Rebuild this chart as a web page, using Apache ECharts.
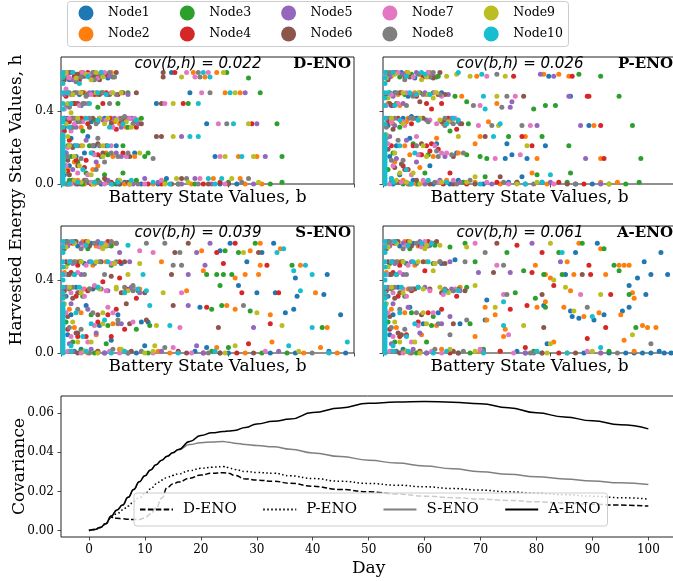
<!DOCTYPE html>
<html>
<head>
<meta charset="utf-8">
<script src="https://cdn.jsdelivr.net/npm/echarts@6/dist/echarts.min.js"></script>
<style>html,body{margin:0;padding:0;background:#fff}#c{width:673px;height:581px}</style>
</head>
<body>
<div id="c"></div>
<script>
const nodeNames = ['Node1','Node2','Node3','Node4','Node5','Node6','Node7','Node8','Node9','Node10'];
const nodeColors = ['#1f77b4','#ff7f0e','#2ca02c','#d62728','#9467bd','#8c564b','#e377c2','#7f7f7f','#bcbd22','#17becf'];
const panelNames = ['D-ENO','P-ENO','S-ENO','A-ENO'];
const panelCov = ['0.022','0.026','0.039','0.061'];
const scatterYTicks = [0, 0.4];
const dayTicks = [0,10,20,30,40,50,60,70,80,90,100];
const covTicks = [0,0.02,0.04,0.06];

// Covariance curves
const days = [0,1,2,3,4,5,6,7,8,9,10,11,12,13,14,15,16,18,20,22,24,25,26,28,30,33,36,40,45,50,55,60,65,70,75,80,85,90,95,100];
const covA = [0,0.0005,0.0015,0.0035,0.0075,0.0105,0.013,0.017,0.021,0.025,0.028,0.031,0.0337,0.036,0.038,0.0398,0.0415,0.0455,0.0486,0.0500,0.0506,0.0509,0.0512,0.0527,0.0545,0.0559,0.0570,0.0603,0.0627,0.0651,0.0657,0.0660,0.0656,0.0648,0.0628,0.0602,0.0581,0.0561,0.0541,0.0520];
const covS = [0,0.0005,0.0015,0.0035,0.0075,0.0105,0.013,0.017,0.021,0.025,0.028,0.031,0.0337,0.036,0.038,0.0398,0.0413,0.0440,0.0449,0.0453,0.0455,0.0452,0.0447,0.0440,0.0435,0.0428,0.0416,0.0397,0.0378,0.0360,0.0345,0.0330,0.0316,0.0301,0.0288,0.0275,0.0264,0.0253,0.0244,0.0236];
const covP = [0,0.0005,0.0015,0.0035,0.0072,0.0085,0.0105,0.0125,0.0148,0.0168,0.0188,0.0212,0.0238,0.0258,0.0272,0.0282,0.0290,0.0306,0.0318,0.0324,0.0327,0.0322,0.0312,0.0302,0.0297,0.0293,0.0280,0.0266,0.0252,0.0241,0.0232,0.0224,0.0215,0.0207,0.0198,0.0190,0.0183,0.0176,0.0168,0.0161];
const covD = [0,0.0005,0.0015,0.0035,0.0068,0.0063,0.0060,0.0058,0.0056,0.0057,0.0065,0.0085,0.0115,0.0165,0.0220,0.0238,0.0248,0.0268,0.0284,0.0293,0.0296,0.0293,0.0282,0.0264,0.0258,0.0252,0.0242,0.0226,0.0210,0.0198,0.0187,0.0176,0.0168,0.0161,0.0154,0.0147,0.0141,0.0135,0.0130,0.0125];

// cyan column of Node10 at b ~ 0 (h values)
const cyanColumnH = [0,0.015,0.03,0.045,0.06,0.075,0.09,0.105,0.12,0.135,0.15,0.165,0.18,0.195,0.21,0.225,0.24,0.255,0.27];

// Scatter points (b,h pairs, flattened) for each panel, one array per node
const ptsD = [
[0.02,0.61,0.09,0.60,0.17,0.585,0.05,0.57,0.13,0.61,0.21,0.59,0.03,0.50,0.11,0.49,0.19,0.50,0.07,0.44,0.12,0.43,0.04,0.36,0.10,0.34,0.02,0.31,0.06,0.25,0.08,0.21,0.03,0.17,0.09,0.15,0.05,0.10,0.02,0.05,0.07,0.02,0.16,0.01,0.24,0.0,0.33,0.0,0.12,0.0,0.66,0.61,0.77,0.50,0.57,0.44,0.87,0.33,0.92,0.15,0.63,0.03,0.30,0.35,0.20,0.21,0.14,0.17,0.48,0.0,0.70,0.0,0.95,0.0,0.26,0.36],
[0.04,0.60,0.12,0.61,0.19,0.57,0.08,0.585,0.23,0.60,0.06,0.49,0.14,0.50,0.22,0.49,0.03,0.43,0.09,0.44,0.06,0.36,0.12,0.31,0.03,0.34,0.05,0.21,0.02,0.15,0.08,0.12,0.04,0.08,0.10,0.02,0.20,0.0,0.29,0.01,0.38,0.0,0.05,0.0,0.79,0.61,0.93,0.61,0.86,0.585,0.98,0.50,1.07,0.50,1.06,0.15,1.17,0.15,0.91,0.03,1.07,0.03,0.32,0.34,0.39,0.31,0.27,0.17,0.44,0.15,0.16,0.44,0.55,0.0,1.10,0.0,0.19,0.08,0.30,0.36],
[0.06,0.61,0.14,0.60,0.02,0.585,0.10,0.57,0.20,0.61,0.25,0.59,0.08,0.50,0.16,0.49,0.24,0.50,0.05,0.43,0.13,0.29,0.02,0.36,0.07,0.31,0.04,0.21,0.06,0.15,0.03,0.10,0.05,0.02,0.13,0.0,0.22,0.02,0.31,0.0,0.99,0.61,1.12,0.58,1.19,0.50,0.76,0.44,1.29,0.33,1.32,0.15,1.32,0.01,0.40,0.50,0.22,0.42,0.34,0.44,0.48,0.36,0.40,0.31,0.37,0.21,0.52,0.17,0.37,0.06,0.15,0.06,0.10,0.12,0.80,0.0,0.45,0.02,1.25,0.0],
[0.03,0.61,0.08,0.59,0.16,0.61,0.11,0.57,0.22,0.585,0.04,0.50,0.12,0.50,0.20,0.49,0.03,0.48,0.08,0.44,0.05,0.34,0.12,0.36,0.02,0.29,0.05,0.24,0.09,0.13,0.15,0.13,0.04,0.07,0.08,0.01,0.18,0.0,0.27,0.02,0.68,0.61,0.73,0.44,1.14,0.33,0.27,0.50,0.25,0.44,0.29,0.36,0.33,0.30,0.19,0.21,0.19,0.17,0.37,0.17,0.60,0.0,0.85,0.0,0.41,0.0],
[0.05,0.61,0.12,0.585,0.18,0.59,0.07,0.57,0.24,0.61,0.02,0.49,0.05,0.50,0.17,0.50,0.14,0.44,0.04,0.43,0.09,0.31,0.02,0.36,0.22,0.34,0.03,0.17,0.07,0.08,0.06,0.21,0.28,0.02,0.09,0.0,0.43,0.0,0.80,0.03,1.10,0.50,0.72,0.26,1.17,0.33,1.22,0.15,0.32,0.36,0.36,0.31,0.33,0.17,0.90,0.0,0.50,0.03],
[0.02,0.57,0.06,0.61,0.14,0.59,0.10,0.60,0.19,0.585,0.23,0.57,0.07,0.49,0.13,0.50,0.23,0.49,0.10,0.44,0.03,0.34,0.17,0.31,0.07,0.36,0.07,0.20,0.05,0.05,0.04,0.13,0.14,0.02,0.26,0.03,0.35,0.0,0.61,0.61,0.61,0.585,0.60,0.44,0.57,0.26,0.60,0.26,0.72,0.03,0.23,0.36,0.45,0.50,0.28,0.49,1.00,0.0,0.30,0.33,0.25,0.17],
[0.05,0.58,0.13,0.61,0.22,0.58,0.03,0.60,0.09,0.57,0.17,0.60,0.03,0.52,0.10,0.50,0.18,0.49,0.02,0.41,0.08,0.33,0.04,0.20,0.10,0.06,0.06,0.29,0.18,0.01,0.03,0.10,0.11,0.43,0.05,0.36,0.75,0.61,0.88,0.61,0.80,0.585,0.84,0.50,0.62,0.44,0.94,0.33,0.95,0.15,0.83,0.03,0.35,0.36,0.41,0.36,0.39,0.15,0.50,0.0,0.31,0.31],
[0.09,0.56,0.15,0.48,0.05,0.42,0.11,0.34,0.04,0.15,0.15,0.02,0.07,0.61,0.19,0.61,0.12,0.585,0.24,0.59,0.20,0.57,0.09,0.50,0.25,0.50,0.13,0.44,0.08,0.36,0.06,0.31,0.10,0.21,0.23,0.01,0.34,0.02,0.82,0.61,0.83,0.585,0.89,0.50,0.99,0.33,0.75,0.03,1.12,0.03,0.32,0.585,0.21,0.50,0.29,0.44,0.38,0.37,0.21,0.33,0.23,0.21,0.30,0.17,0.40,0.17,0.55,0.14,0.21,0.08,0.22,0.25,0.70,0.0,0.26,0.12],
[0.03,0.61,0.09,0.58,0.06,0.39,0.04,0.26,0.08,0.15,0.02,0.07,0.11,0.10,0.15,0.60,0.21,0.61,0.18,0.57,0.01,0.585,0.07,0.49,0.12,0.50,0.21,0.50,0.04,0.44,0.10,0.36,0.03,0.33,0.05,0.21,0.08,0.02,0.19,0.0,0.35,0.02,0.97,0.61,0.72,0.585,1.04,0.50,0.67,0.44,1.12,0.33,0.67,0.26,0.98,0.15,1.15,0.15,0.69,0.03,1.02,0.03,0.36,0.50,0.26,0.33,0.42,0.31,0.13,0.21,0.47,0.17,0.62,0.0,0.28,0.36],
[0.012,0.61,0.012,0.585,0.012,0.55,0.012,0.50,0.012,0.44,0.012,0.41,0.012,0.36,0.012,0.34,0.012,0.31,0.07,0.61,0.11,0.55,0.16,0.59,0.04,0.50,0.22,0.50,0.06,0.44,0.15,0.36,0.05,0.31,0.10,0.01,0.30,0.0,0.20,0.01,0.42,0.02,0.85,0.61,0.89,0.585,1.01,0.50,0.82,0.44,1.03,0.33,0.77,0.26,0.82,0.26,1.08,0.15,0.88,0.03,0.96,0.03,0.17,0.44,0.29,0.31,0.28,0.21,0.65,0.0]
];
const ptsP = [
[0.03,0.60,0.11,0.61,0.19,0.58,0.07,0.50,0.15,0.48,0.05,0.43,0.12,0.36,0.03,0.32,0.08,0.21,0.04,0.15,0.10,0.05,0.18,0.02,0.30,0.0,0.06,0.0,0.21,0.36,0.99,0.59,1.12,0.48,0.17,0.37,1.23,0.32,0.74,0.22,0.97,0.21,0.73,0.14,0.77,0.16,0.86,0.14,0.28,0.10,0.83,0.04,0.60,0.0,0.95,0.01,1.15,0.0,0.45,0.02],
[0.05,0.59,0.14,0.61,0.22,0.60,0.09,0.49,0.19,0.50,0.03,0.44,0.10,0.43,0.06,0.33,0.14,0.34,0.02,0.25,0.07,0.12,0.12,0.02,0.25,0.01,0.16,0.16,0.56,0.59,0.96,0.60,1.05,0.60,1.11,0.59,0.47,0.48,0.68,0.44,1.26,0.32,0.63,0.34,0.32,0.25,0.55,0.22,0.58,0.26,0.85,0.26,0.45,0.17,0.92,0.14,1.30,0.14,0.89,0.06,1.30,0.01,0.70,0.0,0.38,0.02],
[0.02,0.61,0.10,0.585,0.17,0.60,0.04,0.50,0.13,0.49,0.08,0.44,0.04,0.36,0.10,0.31,0.06,0.17,0.03,0.08,0.09,0.01,0.21,0.0,0.27,0.61,0.33,0.59,1.17,0.60,1.30,0.59,0.43,0.48,1.41,0.48,0.50,0.45,0.90,0.41,0.97,0.43,1.03,0.43,0.51,0.33,1.49,0.32,0.75,0.26,0.95,0.26,1.11,0.21,0.58,0.15,0.62,0.14,1.54,0.14,0.61,0.04,0.92,0.05,1.12,0.06,1.53,0.01,1.35,0.0,0.80,0.01,0.40,0.29],
[0.06,0.61,0.13,0.59,0.24,0.585,0.02,0.49,0.11,0.50,0.20,0.48,0.06,0.43,0.03,0.34,0.09,0.36,0.05,0.21,0.12,0.10,0.16,0.0,0.26,0.44,0.78,0.59,1.13,0.59,1.22,0.48,1.23,0.48,0.29,0.41,0.35,0.44,0.39,0.36,1.30,0.32,0.18,0.21,0.29,0.22,0.83,0.26,0.89,0.21,0.28,0.18,1.32,0.14,0.40,0.06,0.50,0.0,1.05,0.01,0.33,0.19],
[0.04,0.585,0.12,0.60,0.20,0.61,0.06,0.48,0.17,0.49,0.12,0.44,0.02,0.36,0.07,0.32,0.04,0.26,0.08,0.14,0.05,0.03,0.14,0.01,0.34,0.02,0.94,0.60,1.02,0.59,1.11,0.48,0.76,0.42,0.77,0.45,0.92,0.32,1.18,0.32,1.21,0.14,0.65,0.0,1.0,0.01,0.25,0.50],
[0.08,0.61,0.16,0.585,0.03,0.57,0.10,0.50,0.22,0.50,0.04,0.44,0.11,0.34,0.06,0.30,0.03,0.19,0.07,0.09,0.20,0.02,0.28,0.0,0.84,0.48,0.22,0.45,0.24,0.36,0.61,0.26,0.13,0.08,0.70,0.04,0.55,0.0,0.30,0.58],
[0.01,0.60,0.09,0.61,0.18,0.585,0.26,0.59,0.05,0.49,0.14,0.50,0.02,0.43,0.09,0.44,0.05,0.34,0.13,0.32,0.03,0.22,0.06,0.10,0.11,0.01,0.24,0.02,0.62,0.59,0.35,0.48,0.79,0.48,0.58,0.43,0.32,0.33,0.57,0.32,0.88,0.32,0.35,0.17,0.38,0.17,0.67,0.14,0.82,0.16,0.75,0.0,0.20,0.26,0.42,0.02],
[0.04,0.61,0.13,0.57,0.21,0.60,0.28,0.585,0.08,0.50,0.18,0.48,0.24,0.49,0.14,0.43,0.07,0.36,0.16,0.36,0.02,0.31,0.09,0.24,0.05,0.13,0.15,0.0,0.31,0.01,0.68,0.60,0.74,0.48,0.54,0.43,0.71,0.42,0.37,0.32,0.65,0.32,0.83,0.32,0.32,0.18,0.41,0.16,0.48,0.17,0.90,0.0,0.52,0.02,0.27,0.34],
[0.02,0.58,0.07,0.60,0.15,0.61,0.23,0.57,0.12,0.50,0.21,0.50,0.27,0.49,0.03,0.47,0.05,0.36,0.12,0.33,0.02,0.27,0.07,0.17,0.10,0.06,0.08,0.02,0.22,0.0,0.38,0.59,0.44,0.60,0.52,0.59,0.73,0.59,0.68,0.48,0.69,0.32,0.45,0.26,0.86,0.21,0.55,0.04,0.30,0.47,0.80,0.0,0.35,0.01],
[0.012,0.61,0.012,0.58,0.012,0.55,0.012,0.50,0.012,0.47,0.012,0.43,0.012,0.36,0.012,0.33,0.06,0.61,0.14,0.59,0.25,0.60,0.03,0.50,0.16,0.50,0.07,0.43,0.10,0.35,0.05,0.03,0.17,0.0,0.27,0.02,0.45,0.61,0.59,0.60,0.60,0.48,0.61,0.41,0.42,0.36,0.70,0.33,0.66,0.26,1.0,0.05,0.85,0.0,0.20,0.49]
];
const ptsS = [
[0.03,0.61,0.10,0.585,0.18,0.60,0.06,0.50,0.14,0.49,0.04,0.43,0.09,0.36,0.03,0.31,0.06,0.21,0.04,0.10,0.12,0.02,0.26,0.0,0.95,0.56,1.01,0.60,1.20,0.55,1.27,0.60,1.11,0.50,1.40,0.41,1.59,0.43,1.06,0.37,1.17,0.33,1.28,0.33,1.41,0.31,1.57,0.32,0.83,0.25,1.34,0.22,1.39,0.24,1.67,0.21,0.50,0.04,0.87,0.03,1.60,0.01,1.40,0.0,1.70,0.0,1.0,0.0,0.52,0.17,0.30,0.07],
[0.05,0.60,0.13,0.61,0.21,0.585,0.09,0.50,0.19,0.48,0.02,0.44,0.11,0.33,0.05,0.24,0.08,0.14,0.16,0.0,0.35,0.02,0.84,0.56,1.13,0.56,1.19,0.60,1.31,0.57,0.60,0.50,1.19,0.48,1.43,0.48,0.85,0.45,1.04,0.41,1.10,0.43,1.18,0.43,0.75,0.34,1.52,0.33,0.99,0.26,1.04,0.24,1.25,0.21,1.59,0.14,0.93,0.03,1.26,0.06,1.55,0.03,1.45,0.0,0.65,0.0],
[0.02,0.59,0.08,0.61,0.16,0.57,0.04,0.49,0.12,0.50,0.08,0.43,0.05,0.35,0.13,0.31,0.03,0.17,0.07,0.06,0.20,0.0,0.98,0.56,1.06,0.55,1.16,0.60,1.38,0.48,0.87,0.43,0.93,0.43,0.97,0.43,1.02,0.43,0.95,0.37,0.90,0.24,0.96,0.26,1.13,0.23,1.56,0.14,1.0,0.03,0.30,0.48,0.45,0.13,1.20,0.0],
[0.07,0.60,0.15,0.61,0.24,0.59,0.03,0.50,0.10,0.48,0.06,0.44,0.02,0.34,0.09,0.31,0.04,0.13,0.10,0.09,0.14,0.01,0.93,0.55,1.04,0.60,0.97,0.49,1.23,0.48,0.35,0.41,1.08,0.33,1.30,0.33,0.33,0.24,0.87,0.25,1.25,0.16,1.12,0.05,0.38,0.13,0.30,0.09,0.25,0.39,0.85,0.0],
[0.04,0.585,0.12,0.60,0.22,0.61,0.07,0.49,0.17,0.50,0.12,0.43,0.03,0.36,0.06,0.27,0.05,0.05,0.18,0.02,0.81,0.55,0.89,0.60,0.86,0.48,0.76,0.43,0.76,0.26,1.15,0.14,0.81,0.04,0.95,0.0,0.28,0.34,0.35,0.55],
[0.09,0.61,0.17,0.585,0.02,0.57,0.11,0.50,0.24,0.50,0.05,0.43,0.10,0.33,0.07,0.30,0.04,0.20,0.09,0.11,0.22,0.01,0.23,0.59,0.68,0.55,0.76,0.60,1.18,0.55,0.66,0.43,0.39,0.27,0.67,0.26,0.51,0.18,0.94,0.14,0.30,0.42,0.75,0.0],
[0.01,0.60,0.06,0.61,0.14,0.585,0.23,0.58,0.05,0.50,0.15,0.48,0.02,0.43,0.10,0.44,0.06,0.33,0.14,0.31,0.03,0.22,0.06,0.09,0.12,0.0,0.29,0.01,0.47,0.56,0.55,0.55,0.32,0.49,0.72,0.33,0.43,0.17,0.71,0.14,0.67,0.03,0.28,0.25,0.20,0.37,0.55,0.0],
[0.04,0.61,0.12,0.57,0.20,0.60,0.27,0.585,0.08,0.50,0.20,0.49,0.14,0.43,0.07,0.36,0.17,0.35,0.02,0.31,0.10,0.24,0.05,0.14,0.17,0.0,0.31,0.02,0.33,0.60,0.51,0.60,0.62,0.60,0.71,0.55,0.23,0.50,0.67,0.48,0.72,0.48,0.43,0.37,1.09,0.26,0.34,0.18,0.62,0.03,0.40,0.0,0.26,0.43],
[0.03,0.58,0.08,0.60,0.16,0.61,0.25,0.57,0.12,0.50,0.21,0.50,0.03,0.47,0.05,0.36,0.12,0.33,0.02,0.27,0.07,0.17,0.10,0.06,0.22,0.0,0.27,0.59,1.09,0.55,0.47,0.49,0.40,0.43,0.33,0.35,0.61,0.33,1.17,0.22,0.57,0.15,1.32,0.15,0.56,0.04,1.04,0.04,0.36,0.02,0.50,0.0],
[0.012,0.61,0.012,0.58,0.012,0.55,0.012,0.50,0.012,0.47,0.012,0.43,0.012,0.40,0.012,0.36,0.012,0.33,0.012,0.30,0.07,0.61,0.15,0.59,0.05,0.50,0.18,0.50,0.08,0.43,0.11,0.36,0.06,0.04,0.15,0.01,0.30,0.0,0.40,0.59,1.29,0.55,1.33,0.57,1.46,0.48,0.49,0.43,1.39,0.45,1.50,0.43,0.51,0.34,1.43,0.34,0.53,0.26,0.26,0.18,0.65,0.15,1.50,0.14,1.71,0.06,1.36,0.04,0.70,0.0]
];
const ptsA = [
[0.03,0.61,0.10,0.585,0.18,0.60,0.06,0.50,0.14,0.49,0.04,0.43,0.09,0.36,0.03,0.31,0.06,0.21,0.04,0.10,0.12,0.02,0.26,0.0,1.15,0.55,1.28,0.60,1.66,0.55,0.43,0.51,1.56,0.50,1.09,0.43,1.52,0.41,1.60,0.43,1.70,0.43,1.47,0.37,1.57,0.32,0.62,0.29,0.96,0.26,1.12,0.23,1.32,0.21,1.43,0.23,1.47,0.25,0.61,0.18,1.13,0.20,1.17,0.19,1.26,0.18,0.98,0.05,1.50,0.0,1.60,0.0,1.72,0.0,1.65,0.01,1.20,0.0,0.85,0.0,1.55,0.0,1.68,0.0],
[0.05,0.60,0.13,0.61,0.21,0.585,0.09,0.50,0.19,0.48,0.02,0.44,0.11,0.33,0.05,0.24,0.08,0.14,0.16,0.0,0.35,0.02,1.17,0.60,1.30,0.57,0.91,0.48,1.10,0.50,1.41,0.48,1.44,0.48,1.47,0.48,0.97,0.43,1.00,0.41,1.14,0.43,1.33,0.43,1.12,0.34,1.49,0.33,1.50,0.30,0.97,0.28,0.61,0.25,0.92,0.25,1.08,0.25,1.29,0.22,1.42,0.21,0.62,0.18,0.67,0.21,0.73,0.13,1.20,0.20,1.55,0.15,1.58,0.14,1.63,0.14,0.55,0.09,0.72,0.09,1.02,0.06,1.44,0.07,1.30,0.0,0.70,0.01],
[0.02,0.59,0.08,0.61,0.16,0.57,0.04,0.49,0.12,0.50,0.08,0.43,0.05,0.35,0.13,0.31,0.03,0.17,0.07,0.06,0.20,0.0,0.40,0.58,0.49,0.60,0.74,0.55,1.05,0.55,1.19,0.60,1.32,0.57,0.55,0.50,1.38,0.48,0.84,0.45,0.96,0.43,1.07,0.43,1.41,0.45,0.50,0.36,0.79,0.33,1.47,0.32,0.91,0.30,0.97,0.25,1.51,0.14,0.60,0.02,0.30,0.20],
[0.07,0.60,0.15,0.61,0.24,0.59,0.03,0.50,0.10,0.48,0.06,0.44,0.02,0.34,0.09,0.31,0.04,0.13,0.10,0.09,0.14,0.01,0.80,0.59,0.95,0.55,1.23,0.48,0.89,0.44,1.24,0.43,1.02,0.37,1.36,0.32,0.76,0.24,0.86,0.26,1.33,0.14,1.22,0.08,0.85,0.03,0.25,0.45,0.35,0.24,0.22,0.59],
[0.04,0.585,0.12,0.60,0.22,0.61,0.07,0.49,0.17,0.50,0.12,0.43,0.03,0.36,0.06,0.27,0.05,0.05,0.18,0.02,0.89,0.60,1.06,0.50,0.57,0.44,0.76,0.44,0.40,0.20,0.95,0.0],
[0.09,0.61,0.17,0.585,0.02,0.57,0.11,0.50,0.24,0.50,0.05,0.43,0.10,0.33,0.07,0.30,0.04,0.20,0.09,0.11,0.22,0.01,0.68,0.60,0.66,0.44,1.19,0.43,0.95,0.32,0.96,0.14,0.28,0.35,0.45,0.0],
[0.01,0.60,0.06,0.61,0.14,0.585,0.23,0.58,0.05,0.50,0.15,0.48,0.02,0.43,0.10,0.44,0.06,0.33,0.14,0.31,0.03,0.22,0.06,0.09,0.12,0.0,0.29,0.01,0.55,0.60,0.68,0.48,0.72,0.32,1.18,0.32,0.75,0.10,0.36,0.32,0.58,0.02],
[0.04,0.61,0.12,0.57,0.20,0.60,0.27,0.585,0.08,0.50,0.20,0.49,0.14,0.43,0.07,0.36,0.17,0.35,0.02,0.31,0.10,0.24,0.05,0.14,0.17,0.0,0.31,0.02,0.61,0.55,0.49,0.50,0.72,0.48,0.74,0.32,1.22,0.25,0.50,0.18,1.60,0.05,0.40,0.10,0.90,0.0],
[0.03,0.58,0.08,0.60,0.16,0.61,0.25,0.57,0.12,0.50,0.21,0.50,0.03,0.47,0.05,0.36,0.12,0.33,0.02,0.27,0.07,0.17,0.10,0.06,0.22,0.0,0.34,0.59,0.50,0.58,1.00,0.60,0.55,0.37,1.02,0.40,1.09,0.36,1.30,0.32,0.67,0.25,1.14,0.23,0.84,0.15,1.00,0.05,1.49,0.10,0.30,0.45,0.40,0.02],
[0.012,0.61,0.012,0.58,0.012,0.55,0.012,0.50,0.012,0.47,0.012,0.43,0.012,0.40,0.012,0.36,0.012,0.33,0.012,0.30,0.07,0.61,0.15,0.59,0.05,0.50,0.18,0.50,0.08,0.43,0.11,0.36,0.06,0.04,0.15,0.01,0.30,0.0,0.29,0.60,1.07,0.55,0.72,0.28,0.72,0.15,1.25,0.20,1.30,0.03,0.60,0.0]
];
// extra points along the bottom row (h ~ 0) per panel, one array per node
const bottomD = [
[0.05,0.01,0.38,0.01,0.58,0.0,1.05,0.0],[0.14,0.0,0.45,0.01,0.78,0.0,1.2,0.0],[0.08,0.01,0.35,0.0,0.62,0.01,1.0,0.01],[0.04,0.0,0.30,0.01,0.52,0.0,0.95,0.01],[0.20,0.01,0.58,0.01,0.72,0.0,1.15,0.0],
[0.10,0.0,0.40,0.01,0.66,0.0,0.88,0.0],[0.06,0.0,0.26,0.0,0.60,0.02,0.98,0.0],[0.03,0.0,0.46,0.0,0.82,0.0,1.08,0.01],[0.12,0.01,0.41,0.0,0.76,0.01,1.18,0.01],[0.05,0.0,0.34,0.01,0.55,0.01,0.92,0.0]
];
const bottomP = [
[0.08,0.01,0.40,0.0,0.75,0.01,1.25,0.0],[0.2,0.0,0.55,0.01,0.98,0.0,1.40,0.01],[0.12,0.0,0.48,0.01,1.10,0.01,1.45,0.0],[0.05,0.01,0.36,0.0,0.68,0.01,1.20,0.0],[0.25,0.0,0.46,0.01,0.85,0.0,1.30,0.0],
[0.10,0.01,0.42,0.0,0.80,0.01,1.10,0.0],[0.04,0.0,0.33,0.01,0.62,0.01,1.02,0.0],[0.07,0.01,0.44,0.0,0.72,0.01,1.15,0.0],[0.14,0.01,0.50,0.01,0.92,0.01,1.35,0.0],[0.06,0.01,0.38,0.01,0.58,0.0,0.95,0.01]
];
const bottomS = [
[0.08,0.01,0.45,0.0,0.80,0.01,1.25,0.0],[0.22,0.01,0.58,0.01,1.10,0.0,1.65,0.0],[0.12,0.01,0.52,0.0,0.90,0.01,1.35,0.0],[0.05,0.01,0.40,0.0,0.70,0.01,1.05,0.0],[0.26,0.0,0.60,0.01,0.85,0.0,1.30,0.01],
[0.10,0.0,0.42,0.01,0.95,0.0,1.15,0.0],[0.04,0.01,0.35,0.0,0.78,0.0,1.22,0.01],[0.07,0.01,0.48,0.01,0.88,0.0,1.50,0.0],[0.14,0.01,0.55,0.01,0.98,0.0,1.42,0.01],[0.06,0.01,0.38,0.01,0.92,0.01,1.60,0.0]
];
const bottomA = [
[0.08,0.01,0.45,0.0,0.80,0.01,1.35,0.0,1.45,0.0,1.74,0.0],[0.22,0.01,0.58,0.01,1.10,0.0,1.50,0.01],[0.12,0.01,0.52,0.0,0.90,0.01,1.35,0.01],[0.05,0.01,0.40,0.0,0.70,0.01,1.05,0.0],[0.26,0.0,0.60,0.01,0.85,0.0,1.30,0.0],
[0.10,0.0,0.42,0.01,0.95,0.0,1.15,0.0],[0.04,0.01,0.35,0.0,0.78,0.0,1.22,0.01],[0.07,0.01,0.48,0.01,0.88,0.0,1.40,0.0],[0.14,0.01,0.55,0.01,0.98,0.0,1.25,0.01],[0.06,0.01,0.38,0.01,0.92,0.01,1.10,0.0]
];
// extra points filling the dense horizontal bands at small b, one array per node
const bandD = [
[0.28,0.58,0.36,0.50,0.18,0.34,0.42,0.36,0.24,0.15,0.33,0.21,0.16,0.26,0.44,0.17],
[0.30,0.61,0.25,0.50,0.14,0.36,0.35,0.33,0.31,0.15,0.12,0.21,0.46,0.35,0.22,0.10],
[0.31,0.585,0.29,0.49,0.20,0.35,0.44,0.34,0.28,0.16,0.17,0.21,0.50,0.15,0.26,0.05],
[0.27,0.60,0.34,0.49,0.16,0.33,0.38,0.35,0.22,0.16,0.27,0.21,0.14,0.09,0.45,0.31],
[0.29,0.59,0.40,0.49,0.25,0.35,0.46,0.33,0.36,0.15,0.15,0.24,0.21,0.12,0.40,0.36],
[0.33,0.61,0.37,0.50,0.19,0.36,0.36,0.34,0.41,0.15,0.22,0.22,0.10,0.10,0.48,0.33],
[0.26,0.61,0.30,0.50,0.13,0.34,0.27,0.35,0.20,0.16,0.30,0.21,0.16,0.05,0.44,0.36],
[0.29,0.61,0.33,0.49,0.17,0.36,0.43,0.33,0.34,0.15,0.19,0.21,0.12,0.14,0.36,0.36],
[0.25,0.585,0.31,0.50,0.23,0.36,0.33,0.35,0.25,0.15,0.25,0.21,0.18,0.05,0.39,0.34],
[0.24,0.61,0.27,0.49,0.22,0.35,0.37,0.33,0.18,0.17,0.09,0.21,0.13,0.08,0.45,0.35]
];
const bandP = [
[0.30,0.59,0.35,0.50,0.20,0.36,0.40,0.34,0.22,0.16,0.32,0.22,0.16,0.25,0.44,0.17],
[0.28,0.61,0.26,0.49,0.15,0.36,0.36,0.33,0.30,0.15,0.13,0.21,0.40,0.35,0.22,0.09],
[0.32,0.585,0.30,0.50,0.21,0.35,0.45,0.34,0.27,0.16,0.18,0.22,0.50,0.16,0.25,0.06],
[0.26,0.60,0.33,0.49,0.17,0.33,0.37,0.35,0.23,0.16,0.26,0.21,0.15,0.08,0.44,0.30],
[0.30,0.59,0.39,0.49,0.26,0.35,0.46,0.33,0.37,0.15,0.14,0.24,0.20,0.12,0.41,0.36],
[0.34,0.61,0.37,0.49,0.18,0.36,0.35,0.34,0.42,0.15,0.23,0.22,0.11,0.11,0.47,0.33],
[0.27,0.61,0.31,0.50,0.12,0.34,0.28,0.35,0.21,0.16,0.31,0.21,0.17,0.05,0.43,0.36],
[0.30,0.61,0.34,0.49,0.18,0.36,0.42,0.33,0.33,0.15,0.20,0.21,0.12,0.13,0.37,0.36],
[0.26,0.585,0.32,0.50,0.22,0.36,0.34,0.35,0.26,0.15,0.24,0.21,0.18,0.06,0.39,0.34],
[0.23,0.61,0.28,0.49,0.21,0.35,0.38,0.33,0.19,0.17,0.10,0.21,0.14,0.08,0.45,0.35]
];
const bandS = [
[0.29,0.59,0.36,0.49,0.19,0.35,0.41,0.35,0.23,0.15,0.34,0.21,0.15,0.26,0.48,0.17],
[0.31,0.60,0.27,0.50,0.14,0.35,0.37,0.33,0.31,0.16,0.12,0.22,0.47,0.35,0.21,0.10],
[0.30,0.585,0.31,0.49,0.22,0.36,0.46,0.34,0.28,0.15,0.18,0.21,0.53,0.15,0.27,0.05],
[0.28,0.61,0.35,0.50,0.16,0.34,0.39,0.35,0.22,0.17,0.28,0.21,0.15,0.09,0.45,0.30],
[0.28,0.59,0.41,0.50,0.24,0.35,0.47,0.33,0.36,0.16,0.16,0.24,0.21,0.11,0.42,0.36],
[0.33,0.60,0.38,0.50,0.20,0.36,0.36,0.33,0.41,0.16,0.22,0.21,0.10,0.11,0.50,0.33],
[0.26,0.60,0.30,0.49,0.13,0.35,0.27,0.34,0.20,0.15,0.31,0.22,0.16,0.06,0.44,0.35],
[0.30,0.61,0.33,0.50,0.17,0.35,0.43,0.34,0.34,0.16,0.19,0.22,0.12,0.13,0.38,0.36],
[0.25,0.59,0.32,0.49,0.23,0.35,0.33,0.36,0.25,0.16,0.25,0.22,0.18,0.06,0.40,0.34],
[0.24,0.60,0.28,0.50,0.22,0.36,0.38,0.33,0.18,0.16,0.09,0.22,0.13,0.09,0.46,0.35]
];
const bandA = [
[0.28,0.59,0.35,0.49,0.18,0.35,0.42,0.34,0.24,0.16,0.33,0.22,0.16,0.25,0.46,0.16],
[0.30,0.60,0.26,0.50,0.15,0.35,0.36,0.34,0.32,0.15,0.13,0.22,0.46,0.36,0.23,0.10],
[0.31,0.59,0.30,0.49,0.21,0.36,0.45,0.35,0.29,0.15,0.17,0.22,0.52,0.16,0.26,0.06],
[0.27,0.61,0.34,0.50,0.17,0.34,0.38,0.34,0.21,0.17,0.27,0.22,0.14,0.10,0.44,0.31],
[0.29,0.60,0.40,0.50,0.25,0.36,0.46,0.34,0.35,0.16,0.15,0.25,0.22,0.11,0.41,0.35],
[0.32,0.61,0.37,0.49,0.19,0.35,0.35,0.33,0.42,0.16,0.23,0.21,0.11,0.10,0.49,0.34],
[0.25,0.61,0.31,0.49,0.12,0.35,0.28,0.34,0.21,0.15,0.30,0.22,0.17,0.06,0.43,0.35],
[0.29,0.60,0.34,0.50,0.16,0.35,0.42,0.34,0.33,0.16,0.20,0.22,0.13,0.13,0.37,0.35],
[0.26,0.59,0.31,0.49,0.24,0.35,0.34,0.36,0.26,0.16,0.24,0.22,0.19,0.06,0.39,0.33],
[0.23,0.60,0.27,0.50,0.21,0.36,0.37,0.34,0.19,0.16,0.10,0.22,0.14,0.09,0.45,0.34]
];
const panelPts = [ptsD, ptsP, ptsS, ptsA];
const panelBottom = [bottomD, bottomP, bottomS, bottomA];
const panelBand = [bandD, bandP, bandS, bandA];

function pairs(flat) {
  const out = [];
  for (let i = 0; i + 1 < flat.length; i += 2) out.push([flat[i], flat[i + 1]]);
  return out;
}

const SERIF = 'DejaVu Serif';
const AX = '#222';
const panelBoxes = [
  {left: 61, top: 57}, {left: 383, top: 57},
  {left: 61, top: 226}, {left: 383, top: 226}
];
const PW = 293, PH = 127;

const grids = panelBoxes.map(p => ({left: p.left, top: p.top, width: PW, height: PH, show: true, borderColor: AX, borderWidth: 1, backgroundColor: 'transparent', containLabel: false, outerBoundsMode: 'none'}));
grids.push({left: 61, top: 396, width: 615.3, height: 141, show: true, borderColor: AX, borderWidth: 1, containLabel: false, outerBoundsMode: 'none'});

const xAxes = panelBoxes.map((p, i) => ({
  gridIndex: i, type: 'value', min: 0, max: 1.75, interval: 1,
  axisLine: {show: false, onZero: false}, splitLine: {show: false},
  axisTick: {show: true, length: 3.5, lineStyle: {color: AX, width: 0.8}},
  axisLabel: {show: false},
  name: 'Battery State Values, b', nameLocation: 'middle', nameGap: 5, nameMoveOverlap: false,
  nameTextStyle: {fontFamily: SERIF, fontSize: 17, color: '#000', verticalAlign: 'top'}
}));
xAxes.push({
  gridIndex: 4, type: 'value', min: -5, max: 105,
  axisLine: {show: false, onZero: false}, splitLine: {show: false},
  axisTick: {show: true, length: 3.5, customValues: dayTicks, lineStyle: {color: AX, width: 0.8}},
  axisLabel: {show: true, customValues: dayTicks, margin: 7, fontFamily: SERIF, fontSize: 12, color: '#000'},
  name: 'Day', nameLocation: 'middle', nameGap: 23, nameMoveOverlap: false,
  nameTextStyle: {fontFamily: SERIF, fontSize: 17, color: '#000', verticalAlign: 'top'}
});

const yAxes = panelBoxes.map((p, i) => ({
  gridIndex: i, type: 'value', min: 0, max: 0.695,
  axisLine: {show: false, onZero: false}, splitLine: {show: false},
  axisTick: {show: true, length: 3.5, customValues: scatterYTicks, lineStyle: {color: AX, width: 0.8}},
  axisLabel: {show: i % 2 === 0, customValues: scatterYTicks, margin: 7, fontFamily: SERIF, fontSize: 12, color: '#000', formatter: v => v.toFixed(1)}
}));
yAxes.push({
  gridIndex: 4, type: 'value', min: -0.0033, max: 0.0688,
  axisLine: {show: false, onZero: false}, splitLine: {show: false},
  axisTick: {show: true, length: 3.5, customValues: covTicks, lineStyle: {color: AX, width: 0.8}},
  axisLabel: {show: true, customValues: covTicks, margin: 7, fontFamily: SERIF, fontSize: 12, color: '#000', formatter: v => v.toFixed(2)},
  name: 'Covariance', nameLocation: 'middle', nameGap: 33, nameMoveOverlap: false,
  nameTextStyle: {fontFamily: SERIF, fontSize: 17, color: '#000'}
});

const series = [];
panelPts.forEach((pts, p) => {
  pts.forEach((flat, n) => {
    let data = pairs(flat).concat(pairs(panelBand[p][n]), pairs(panelBottom[p][n]));
    if (n === 9) data = cyanColumnH.map(h => [0.012, h]).concat(data);
    series.push({
      type: 'scatter', name: nodeNames[n], xAxisIndex: p, yAxisIndex: p,
      data: data, symbol: 'circle', symbolSize: 5,
      itemStyle: {color: nodeColors[n], opacity: 1}, silent: true
    });
  });
});

const lineDefs = [
  {name: 'D-ENO', vals: covD, color: '#000', type: [5.5, 2.4]},
  {name: 'P-ENO', vals: covP, color: '#000', type: [1.5, 2.5]},
  {name: 'S-ENO', vals: covS, color: '#808080', type: 'solid'},
  {name: 'A-ENO', vals: covA, color: '#000', type: 'solid'}
];
lineDefs.forEach(d => {
  series.push({
    type: 'line', name: d.name, xAxisIndex: 4, yAxisIndex: 4,
    data: days.map((x, i) => [x, d.vals[i]]),
    smooth: true, smoothMonotone: 'x', symbol: 'none', silent: true,
    lineStyle: {color: d.color, width: 1.5, type: d.type},
    itemStyle: {color: d.color}
  });
});

const legends = nodeNames.map((nm, i) => {
  const col = Math.floor(i / 2), row = i % 2;
  return {
    data: [nm], left: 78.5 + col * 101.3, top: row === 0 ? 5.5 : 26.5,
    orient: 'horizontal', padding: 0, itemGap: 0,
    itemWidth: 15, itemHeight: 15, icon: 'circle', selectedMode: false,
    textStyle: {fontFamily: SERIF, fontSize: 12.5, color: '#000', padding: [0, 0, 0, 9.5]}
  };
});
legends.push({
  data: lineDefs.map(d => d.name), left: 134, top: 493, orient: 'horizontal',
  padding: [9, 7, 9, 5], itemGap: 25.5, itemWidth: 33, itemHeight: 14,
  backgroundColor: 'rgba(255,255,255,0.8)', borderColor: '#cccccc', borderWidth: 1, borderRadius: 3,
  selectedMode: false,
  itemStyle: {opacity: 0},
  textStyle: {fontFamily: SERIF, fontSize: 15, color: '#000', padding: [0, 0, 0, 5]}
});

const graphics = [
  {type: 'rect', z: -1, shape: {x: 67.5, y: 1.5, width: 501, height: 45, r: 3}, style: {fill: '#fff', stroke: '#cccccc', lineWidth: 1}},
  {type: 'text', x: 17, y: 200, rotation: Math.PI / 2,
   style: {text: 'Harvested Energy State Values, h', fontFamily: SERIF, fontSize: 17, fill: '#000', align: 'center', verticalAlign: 'middle'}}
];
panelBoxes.forEach((p, i) => {
  graphics.push({type: 'text', x: p.left + 137, y: p.top + 7.5, z: 10,
    style: {text: 'cov(b,h) = ' + panelCov[i], fontFamily: 'DejaVu Sans', fontStyle: 'italic', fontSize: 15, fill: '#000', align: 'center', verticalAlign: 'middle'}});
  graphics.push({type: 'text', x: p.left + 290, y: p.top + 7.5, z: 10,
    style: {text: panelNames[i], fontFamily: SERIF, fontWeight: 'bold', fontSize: 15, fill: '#000', align: 'right', verticalAlign: 'middle'}});
});

const chart = echarts.init(document.getElementById('c'), null, {renderer: 'canvas'});
chart.setOption({
  animation: false,
  backgroundColor: '#fff',
  grid: grids,
  xAxis: xAxes,
  yAxis: yAxes,
  legend: legends,
  graphic: graphics,
  series: series
});
</script>
</body>
</html>
